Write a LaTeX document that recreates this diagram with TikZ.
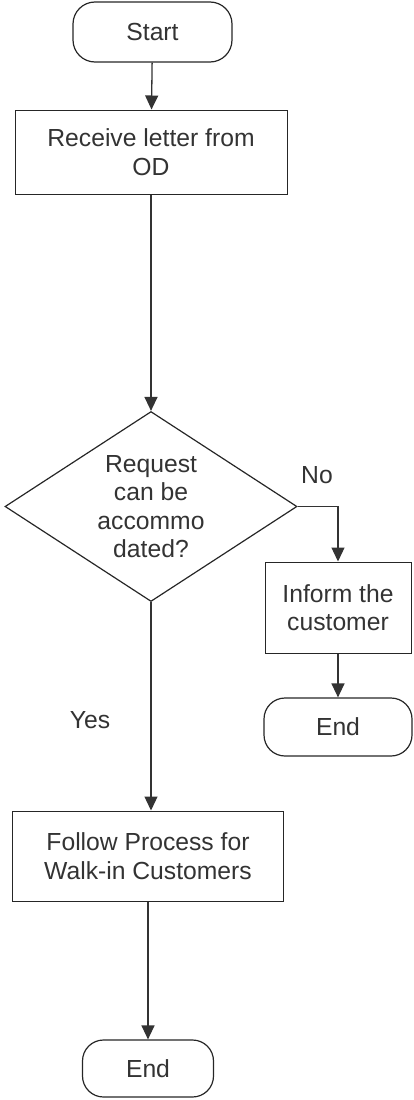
\documentclass[tikz,border=0pt]{standalone}
\usepackage{fontspec}
\setmainfont{Liberation Sans}
\usetikzlibrary{shapes.geometric,arrows.meta}
\begin{document}
\begin{tikzpicture}[x=1pt,y=-1pt,
  every node/.style={font=\fontsize{24.7}{28.4}\selectfont, text=black!80},
  flow/.style={draw=black!80, line width=1.3pt, -{Triangle[length=14pt,width=13pt]}},
  term/.style={draw=black!85, line width=1.2pt, rounded corners=22pt, align=center, inner sep=0pt},
  proc/.style={draw=black!85, line width=1pt, align=center, inner sep=0pt},
  decision/.style={diamond, draw=black!85, line width=1.2pt, align=center, inner sep=0pt,
    aspect=1.54, minimum width=292pt, minimum height=190pt},
  lbl/.style={anchor=base}
]
\useasboundingbox (0,0) rectangle (414,1100);

% nodes
\node[term, minimum width=159pt, minimum height=60pt] (start) at (152.5,32) {Start};
\node[proc, minimum width=272pt, minimum height=84pt] (receive) at (151,152) {Receive letter from\\OD};
\node[decision] (dec) at (151,506.5) {Request\\can be\\accommo\\dated?};
\node[proc, minimum width=146pt, minimum height=91pt] (inform) at (338,607.5) {Inform the\\customer};
\node[term, minimum width=148pt, minimum height=58pt, rounded corners=21pt] (end1) at (338,727) {End};
\node[proc, minimum width=271pt, minimum height=90pt] (follow) at (148,856) {Follow Process for\\Walk-in Customers};
\node[term, minimum width=131pt, minimum height=57pt, rounded corners=21pt] (end2) at (148,1068.5) {End};

% branch labels
\node[lbl] (nolbl) at (317,483) {No};
\node[lbl] (yeslbl) at (90,728) {Yes};

% connectors
\coordinate (noturn) at (338,506.5);
\draw[flow] (start) -- (receive);
\draw[flow] (receive) -- (dec);
\draw[flow] (dec.east) -- (noturn) -- (noturn |- inform.north);
\draw[flow] (inform) -- (end1);
\draw[flow] (dec.south) -- (dec.south |- follow.north);
\draw[flow] (follow) -- (end2);
\end{tikzpicture}
\end{document}
